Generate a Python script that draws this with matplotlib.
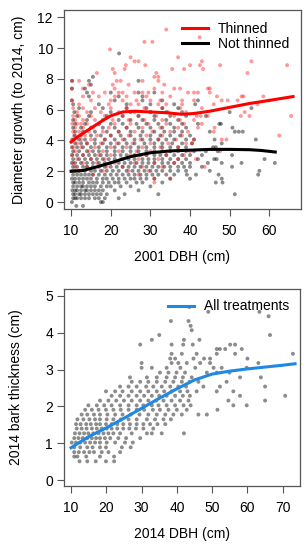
import numpy as np
import matplotlib
matplotlib.use("Agg")
import matplotlib.pyplot as plt

plt.rcParams['font.family'] = ['Liberation Sans', 'DejaVu Sans']

# ---- top panel: diameter growth vs 2001 DBH ----
# not thinned points (dbh, growth), read off row by row
nt_x = [11.3, 13,
        10.2, 17.5, 18,
        10.5, 11, 11.5, 12.5, 13.5, 14.5, 16, 17, 18.5, 22,
        10.5, 11, 12, 12.5, 13.5, 14.5, 15.5, 16.5, 17.5, 19, 23.5, 32, 51.3,
        10.3, 11, 11.5, 12.5, 13.5, 14, 15, 16, 17, 18, 21, 27,
        10.5, 11.5, 12.5, 13, 14, 15, 16, 17.5, 19, 20, 22.5, 25, 30,
        10.5, 11, 12, 13, 14.5, 15.5, 16.5, 18, 19.5, 21, 22, 24, 26.5, 28, 33, 46.5, 48.2,
        10.2, 11, 12, 13, 14, 15, 16.5, 18, 19, 20.5, 22, 23.5, 25, 26, 27.5, 29, 31, 35, 40, 48,
        10.5, 11.5, 12.5, 13.5, 14.5, 15.5, 17, 18.5, 20, 21.5, 23, 24.5, 26, 27.5, 29, 30.5, 32, 34, 36, 39.2, 41.5, 47.2, 57.2,
        10.3, 11, 12, 13.5, 15, 16, 17.5, 19, 20.5, 22, 24, 25.5, 27, 28.5, 30, 31.5, 33, 35, 37, 39, 45, 57.5,
        10.5, 11.5, 13, 14, 15.5, 17, 18.5, 20, 21.5, 23, 24.5, 26, 27.5, 29, 30.5, 32, 33.5, 35, 37, 38.5, 40, 43, 50.6,
        10.2, 11, 12.5, 14, 15.5, 17, 18.5, 20, 22, 23.5, 25, 26.5, 28, 29.5, 31, 33, 34.5, 36, 38, 40, 44.5, 48, 53, 61.4,
        10.5, 12, 13.5, 15, 16.5, 18, 19.5, 21, 23, 24.5, 26, 28, 29.5, 31, 33, 35, 37, 39, 42, 46.1, 46.7, 58.8,
        10.3, 11.5, 13, 14.5, 16, 17.5, 19, 21, 22.5, 24, 26, 27.5, 29, 31, 32.5, 34, 36, 38, 40, 43, 50.6,
        10.5, 12, 14, 15.5, 17, 19, 21, 23, 25, 27, 29, 31, 33, 35, 37, 39, 41, 44, 47,
        10.2, 11.5, 13, 15, 17, 19, 21, 23, 25, 27, 29, 31, 33, 35, 37, 39, 45.8, 46.5,
        11, 12.5, 14, 16, 18, 20, 22, 24, 26, 28.5, 31, 33, 35.5, 38, 40.5, 48,
        10.5, 12, 13.5, 16, 18.5, 21, 23.5, 26, 28, 30, 32, 34, 36, 39, 41, 46.2, 56.6,
        10.8, 12.5, 15, 17.5, 20, 22.5, 25, 27.5, 30, 32.5, 35, 37.5, 40,
        11, 13, 16, 19, 22, 25, 28, 31, 33.5, 36, 38, 45, 51.3, 52.3, 53.3,
        10.5, 12.5, 15, 18, 21, 24, 27, 30, 33, 36, 39, 50.7,
        11, 13.5, 17, 20, 23, 26.5, 29, 32, 35, 38, 42, 47.4, 47.8,
        10.5, 14, 18, 22, 25, 28, 31, 34, 37,
        11.5, 14.5, 19, 23, 27, 31, 35, 39, 44,
        10.8, 15, 20, 25, 30, 34, 38, 50,
        12, 18, 24, 29, 33, 37, 55.5,
        10.5, 17, 24, 30, 36, 41.3,
        10.2, 21, 28, 33, 42,
        14.5, 22, 28,
        14, 20, 27, 31,
        10.2, 13.5,
        15,
        10.2, 14.5, 27,
        15.5,
        22.1]
nt_y = [-0.25] * 2 + [0.0] * 3 + [0.25] * 10 + [0.51] * 13 + [0.76] * 12 + [1.02] * 13 \
    + [1.27] * 17 + [1.52] * 20 + [1.78] * 23 + [2.03] * 22 + [2.29] * 23 + [2.54] * 24 \
    + [2.79] * 22 + [3.05] * 21 + [3.30] * 19 + [3.56] * 18 + [3.81] * 16 + [4.06] * 17 \
    + [4.32] * 13 + [4.57] * 15 + [4.83] * 12 + [5.08] * 13 + [5.33] * 9 + [5.59] * 9 \
    + [5.84] * 8 + [6.10] * 7 + [6.35] * 6 + [6.60] * 5 + [6.86] * 3 + [7.11] * 4 \
    + [7.37] * 2 + [7.62] * 1 + [7.87] * 3 + [8.13] * 1 + [9.65] * 1

# thinned points
th_x = [31,
        31, 35,
        15.5, 27,
        12, 18, 24.5, 29.5,
        11, 14, 19, 23, 28, 33, 43.7,
        10.5, 13, 16.5, 21, 26, 31, 36,
        11.5, 15, 18.5, 22.5, 27, 32, 37, 41.5,
        10.2, 13, 17, 20, 25, 29, 34, 38.5,
        11, 14.5, 18, 22, 26.5, 30, 35, 40, 47.6,
        10.5, 12.5, 16, 20, 24, 28, 32.5, 37,
        11.5, 14, 17.5, 21.5, 25.5, 30, 34.5, 39, 40.5,
        10.2, 12.5, 15, 18.5, 23, 27.5, 32, 36.5, 41, 48, 49.2,
        11, 13.5, 16.5, 20, 24.5, 29, 33, 38, 62.5,
        10.5, 12, 14.5, 18, 22, 26, 30.5, 35, 39.5, 46,
        11, 13, 15.5, 19.5, 24, 28, 32.5, 37, 42, 46.2,
        10.3, 11.5, 12.5, 14, 17, 21, 25, 29.5, 34, 38.5, 43,
        11, 13, 16, 20.5, 24.5, 28.5, 33, 37.5, 41,
        10.5, 12, 15, 18.5, 23, 27, 31.5, 36, 41.7, 42.7, 44.5, 52.8, 55, 65.5,
        11.5, 14, 17.5, 22, 26, 30, 34.5, 39, 53.8,
        10.5, 13, 16, 20, 24, 28.5, 33, 37.5, 43,
        12, 19.5, 25, 27, 32, 34, 38, 46, 57,
        10.2, 15, 20, 23, 26.5, 30, 32.5, 38, 41, 48, 49.5, 52, 60,
        13, 17, 21, 24, 29, 35, 46.8, 53, 53.5, 58.5,
        15.5, 18.5, 22, 23, 26, 28, 29.5, 33, 39.5, 41, 42, 45,
        10.2, 13, 21, 31, 36, 37.5, 44.5, 45,
        14.5, 20.5, 24.5, 33.5,
        10.3, 12, 21.5, 22.5, 28, 32,
        31, 32,
        16.5, 21, 31.5, 54.5,
        20.5, 23.5, 35.5, 38.5, 43.3,
        23.8, 28.7, 40, 42.5, 47.6, 64.5,
        26, 27, 43, 55.5,
        25, 37,
        19.8,
        28.5, 30.5,
        42.4,
        34]
th_y = [1.27] * 1 + [1.52] * 2 + [1.78] * 2 + [2.03] * 4 + [2.29] * 7 + [2.54] * 7 \
    + [2.79] * 8 + [3.05] * 8 + [3.30] * 9 + [3.56] * 8 + [3.81] * 9 + [4.06] * 11 \
    + [4.32] * 9 + [4.57] * 10 + [4.83] * 10 + [5.08] * 11 + [5.33] * 9 + [5.59] * 14 \
    + [5.84] * 9 + [6.10] * 9 + [6.35] * 9 + [6.60] * 13 + [6.86] * 10 + [7.11] * 12 \
    + [7.37] * 8 + [7.62] * 4 + [7.87] * 6 + [8.13] * 2 + [8.38] * 4 + [8.64] * 5 \
    + [8.89] * 6 + [9.14] * 4 + [9.40] * 2 + [9.91] * 1 + [10.4] * 2 + [10.7] * 1 + [11.2] * 1

# smoothed curves
th_fit_x = [10, 12, 15, 18, 20, 23, 26, 30, 34, 38, 41, 45, 50, 55, 60, 66]
th_fit_y = [3.9, 4.3, 4.8, 5.3, 5.6, 5.85, 5.9, 5.85, 5.8, 5.7, 5.75, 5.9, 6.15, 6.4, 6.6, 6.85]
nt_fit_x = [10, 13, 16, 20, 25, 30, 35, 40, 45, 50, 55, 58, 61.5]
nt_fit_y = [2.0, 2.05, 2.25, 2.55, 2.95, 3.2, 3.32, 3.37, 3.42, 3.42, 3.4, 3.35, 3.25]

# ---- bottom panel: bark thickness vs 2014 DBH ----
bark_x = [12.4, 14.6, 17.0, 19.9, 22.2,
          10.9, 11.8, 14.3, 18.2, 22.2,
          10.9, 12.2, 13.7, 15.2, 16.5, 18.7, 20.6, 23.9,
          10.9, 12.6, 14.6, 16.1, 18.2, 19.9, 24.4, 26.9,
          10.2, 11.4, 12.6, 14.0, 15.4, 16.8, 18.2, 20.1, 22.5, 25.3, 27.5,
          10.9, 12.1, 13.3, 14.6, 15.9, 17.1, 18.2, 19.6, 21.1, 23.4, 25.6, 29.6,
          11.1, 12.4, 13.7, 14.9, 16.3, 17.8, 19.2, 20.6, 22.0, 23.9, 27.2, 31.5, 32.9, 35.7, 42.0,
          11.6, 13.0, 14.4, 15.9, 17.3, 18.7, 20.1, 21.5, 23.1, 24.8, 26.5, 28.4, 30.5, 33.3,
          11.4, 12.7, 14.3, 15.6, 17.1, 18.2, 19.9, 21.5, 23.1, 24.8, 26.7, 28.6, 30.5, 32.4, 34.5, 36.7,
          11.8, 13.5, 15.2, 16.8, 18.2, 20.1, 22.0, 24.1, 26.3, 28.6, 31.5, 33.8, 36.2, 38.3,
          13.0, 14.6, 16.5, 18.2, 20.3, 22.5, 24.6, 26.9, 29.4, 31.9, 34.3, 36.7, 39.0, 41.4, 46.1, 48.5,
          14.0, 15.9, 17.8, 19.9, 22.0, 24.1, 26.3, 28.6, 30.7, 33.2, 35.2, 37.6, 40.0, 42.8, 51.5,
          14.9, 17.3, 19.4, 21.5, 23.9, 26.3, 28.6, 30.5, 32.9, 34.8, 37.1, 39.5, 41.9, 43.9, 56.0, 59.8,
          18.2, 20.6, 22.8, 25.0, 27.2, 29.6, 31.9, 34.1, 36.2, 38.5, 40.9, 43.3, 54.6, 65.0,
          21.5, 23.9, 26.3, 28.6, 30.7, 32.9, 35.0, 37.1, 39.5, 41.7, 43.7, 57.9, 70.7,
          19.9, 22.5, 24.6, 27.2, 29.6, 31.9, 34.3, 36.4, 38.5, 40.9, 43.0, 45.6, 51.3, 56.0,
          23.9, 26.3, 28.6, 31.3, 33.3, 35.7, 38.1, 40.4, 42.6, 47.5, 52.2, 65.0,
          27.2, 29.6, 31.9, 34.3, 36.7, 39.0, 41.4, 43.6, 46.1, 54.1,
          26.7, 31.5, 34.3, 37.1, 39.5, 41.7, 44.2, 57.9, 63.8,
          35.2, 37.6, 39.9, 42.3, 48.5, 51.3, 54.9,
          30.0, 32.9, 37.1, 41.0, 45.2, 50.4, 52.7, 59.8,
          30.0, 38.5, 40.4, 42.8, 46.6, 49.4, 63.1,
          38.1, 39.5, 44.7, 47.7, 49.4, 60.0,
          38.5, 41.4, 45.6, 51.3, 56.5, 72.9,
          51.3, 52.2, 53.7, 58.4,
          29.6, 38.5, 41.8, 44.5, 55.1, 56.5,
          32.9, 42.0, 46.4,
          35.0, 66.4,
          44.2,
          43.9,
          38.3, 43.3,
          66.0,
          48.9, 63.4,
          43.5]
bark_y = [0.51] * 5 + [0.64] * 5 + [0.76] * 8 + [0.89] * 8 + [1.02] * 11 + [1.14] * 12 \
    + [1.27] * 15 + [1.40] * 14 + [1.52] * 16 + [1.65] * 14 + [1.78] * 16 + [1.91] * 15 \
    + [2.03] * 16 + [2.16] * 14 + [2.29] * 13 + [2.41] * 14 + [2.54] * 12 + [2.67] * 10 \
    + [2.79] * 9 + [2.92] * 7 + [3.05] * 8 + [3.18] * 7 + [3.30] * 6 + [3.43] * 6 \
    + [3.56] * 4 + [3.68] * 6 + [3.81] * 3 + [3.94] * 2 + [4.07] * 1 + [4.19] * 1 \
    + [4.32] * 2 + [4.45] * 1 + [4.57] * 2 + [4.70] * 1

bark_fit_x = [10, 15, 20, 25, 30, 35, 40, 45, 50, 55, 60, 65, 70, 73.5]
bark_fit_y = [0.88, 1.18, 1.42, 1.68, 1.95, 2.22, 2.48, 2.72, 2.88, 2.96, 3.02, 3.07, 3.12, 3.16]


def style_axes(ax):
    for s in ax.spines.values():
        s.set_color('#555555')
        s.set_linewidth(0.9)
    ax.tick_params(direction='out', length=5, width=0.8, labelsize=10, color='#555555')
    ax.tick_params(axis='x', pad=5.5)
    ax.tick_params(axis='y', pad=3)


fig = plt.figure(figsize=(3.08, 5.5), dpi=100)

ax1 = fig.add_axes([64/308, 1-209/550, 237/308, 199/550])
ax1.scatter(nt_x, nt_y, s=8, color='black', alpha=0.45, edgecolors='none')
ax1.scatter(th_x, th_y, s=8, color='red', alpha=0.4, edgecolors='none')
ax1.plot(th_fit_x, th_fit_y, color='red', lw=2.2, label='Thinned')
ax1.plot(nt_fit_x, nt_fit_y, color='black', lw=2.2, label='Not thinned')
ax1.set_xlim(8.2, 68.0)
ax1.set_ylim(-0.45, 12.47)
ax1.set_xticks([10, 20, 30, 40, 50, 60])
ax1.set_yticks([0, 2, 4, 6, 8, 10, 12])
ax1.set_xlabel('2001 DBH (cm)', fontsize=10, labelpad=9)
ax1.set_ylabel('Diameter growth (to 2014, cm)', fontsize=10, labelpad=8.5)
ax1.legend(loc='upper right', frameon=False, fontsize=10, handlelength=1.9,
           handletextpad=0.72, labelspacing=0.05, borderaxespad=0.45)
style_axes(ax1)

ax2 = fig.add_axes([64/308, 1-486/550, 236/308, 197/550])
ax2.scatter(bark_x, bark_y, s=8, color='black', alpha=0.45, edgecolors='none')
ax2.plot(bark_fit_x, bark_fit_y, color='#1E88E5', lw=2.2, label='All treatments')
ax2.set_xlim(8.0, 74.9)
ax2.set_ylim(-0.16, 5.19)
ax2.set_xticks([10, 20, 30, 40, 50, 60, 70])
ax2.set_yticks([0, 1, 2, 3, 4, 5])
ax2.set_xlabel('2014 DBH (cm)', fontsize=10, labelpad=9)
ax2.set_ylabel('2014 bark thickness (cm)', fontsize=10, labelpad=16)
ax2.legend(loc='upper right', frameon=False, fontsize=10, handlelength=1.9,
           handletextpad=0.72, borderaxespad=0.35)
style_axes(ax2)

fig.savefig('out.png', dpi=100)
